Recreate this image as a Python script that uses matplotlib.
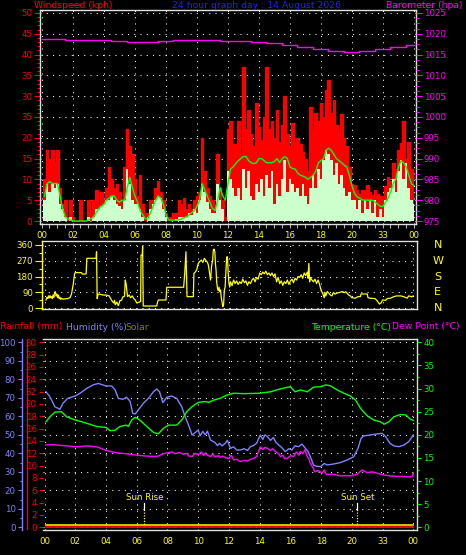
import numpy as np
import matplotlib
matplotlib.use('Agg')
import matplotlib.pyplot as plt
from matplotlib.ticker import MultipleLocator, FixedLocator, FixedFormatter
from matplotlib.lines import Line2D
import matplotlib.transforms as mtransforms

# ---------------- data ----------------
wind_t0 = 0.1          # first 10-minute slot (hours)
wind_step = 1 / 6.0
gust = [10, 17, 15, 17, 14, 17,   8, 4, 5, 1, 5, 1,   0, 0, 5, 0, 0, 5,
        2, 5, 7.5, 4, 7, 5,       8, 13, 10, 8, 9, 7,  5, 13, 22, 18, 16, 10,
        6, 11, 4, 2, 2, 5,        5, 8, 9.5, 7, 5, 2,  1, 1, 2, 2, 5, 4,
        5.5, 3, 4, 3, 5, 6,       7, 20, 12, 8, 6, 5,  4, 16, 8, 5, 1, 22,
        24, 18.5, 18.5, 24, 16, 37,   22, 26.7, 21, 18, 28.4, 22.7,
        19.5, 25, 37, 22, 24, 20,     26.7, 19, 23, 30, 21, 18,
        23.5, 19, 20, 18.5, 16.5, 15, 12, 27.5, 22, 26, 24, 28.4,
        25, 31.5, 34, 26, 29, 23,     21, 25.8, 20, 18, 13, 9,
        8.6, 7.5, 6.5, 7.5, 7, 8.6,   7, 6.2, 7.5, 6.5, 6, 5.5,
        8.5, 10.6, 9.5, 14, 12.5, 17, 18.7, 24, 15, 19, 12.5, 10.5]
speed = [5, 9, 7, 9, 8, 9,   4, 3, 1, 0, 1, 0,   0, 0, 0, 0, 0, 1,
         0, 1, 3, 3, 3.5, 4, 5, 5, 6, 5, 4, 3.5, 3, 5, 12.5, 9, 5, 4,
         4, 3, 1, 0, 1, 3,   4, 5, 6, 5.5, 3, 1,  0, 0, 0, 0.5, 1, 1,
         1, 1, 2, 1.5, 3, 2, 5, 9, 7, 4.5, 3, 2,  2, 9, 5, 3, 0, 12,
         10, 8, 6, 8, 5, 12.4,  8, 12, 6, 5, 9, 7,  10, 6, 11, 8, 12, 4,
         9, 6, 10, 14.7, 7, 10, 9, 7, 8, 6, 9, 6,  4, 8, 11, 8, 12.4, 10,
         14.7, 17, 16, 14.6, 11, 14,  9, 11, 8, 6, 7, 5,
         5, 3, 5, 2, 5, 3,  5, 2, 5, 1, 3, 1,
         5, 7, 8, 10, 7, 12,  14.7, 10, 14, 8, 5, 4]
avg = [6, 9, 9.5, 9, 9, 9,   6, 3, 1, 0.5, 0.3, 0,  0, 0, 0, 0, 0, 0.3,
       0.5, 1, 2, 3, 3.5, 4,  5, 5.5, 6, 6, 5, 4.5,  5, 5, 8, 10.5, 8, 6,
       4.5, 2.5, 1.5, 0.5, 0.5, 2,  3.5, 5, 6, 5.5, 4, 1.5,  0.3, 0.2, 0.2, 0.2, 0.3, 0.5,
       0.8, 1, 1.5, 2, 2.5, 3.5,  5, 9, 7.5, 6, 4.5, 3,  2.5, 5, 8, 6, 5, 9,
       12.5, 13, 13.8, 14.5, 15, 15.5,  15.5, 14.5, 14, 13.8, 14, 15,
       15, 14.5, 14, 14, 14, 14.3,  15, 14, 15, 15.5, 15, 13,
       12.6, 12.5, 11.5, 11, 10.8, 10.5,  10, 10.5, 11, 12, 14, 14.5,
       15, 17, 17.5, 17, 16, 15,  14.5, 14, 13.4, 13, 11, 8.5,
       6.6, 5.8, 5.5, 5.1, 5, 5,  5, 5, 4.5, 4, 3.5, 3.5,
       4.5, 5.5, 7, 9, 10, 13,  14.5, 14, 13, 11, 9, 8.5]

baro_t = [0, 1, 2, 3, 4, 5, 6, 7, 8, 9, 10, 11, 12, 13, 14, 15, 16, 17, 18, 19, 20, 21, 22, 23, 24]
baro_v = [1018.7, 1018.8, 1018.5, 1018.5, 1018.4, 1018.2, 1018.0, 1018.1, 1018.2, 1018.5,
          1018.6, 1018.4, 1018.3, 1018.2, 1018.0, 1017.7, 1017.3, 1016.8, 1016.3, 1015.8,
          1015.6, 1015.8, 1016.4, 1016.9, 1017.3]

dir_t = [0.09, 0.15, 0.2, 0.25, 0.3, 0.35, 0.4, 0.45, 0.5, 0.55, 0.6, 0.65, 0.7, 0.75, 0.8, 0.85,
         0.9, 0.95, 1.0, 1.05, 1.1, 1.2, 1.3, 1.5, 1.65, 1.75, 1.87, 1.95, 2.0, 2.4, 2.45, 2.7,
         2.75, 3.35, 3.38, 3.42, 3.48, 3.6, 3.8, 4.0, 4.2, 4.3, 4.4, 4.5, 4.55, 4.6, 4.7, 4.8,
         4.9, 5.0, 5.1, 5.2, 5.25, 5.3, 5.35, 5.4, 5.5, 5.6, 5.7, 5.8, 5.9, 6.0, 6.25, 6.28,
         6.35, 6.38, 6.42, 7.3, 7.35, 7.4, 7.9, 7.95, 9.05, 9.12, 9.2, 9.27, 9.68, 9.72, 9.8,
         9.9, 10.0, 10.1, 10.2, 10.3, 10.4, 10.5, 10.6, 10.66, 10.75, 10.8, 10.87, 10.94, 10.98,
         11.03, 11.08, 11.12, 11.16, 11.2, 11.25, 11.3, 11.35, 11.4, 11.45, 11.5, 11.6, 11.65,
         11.7, 11.75, 11.85, 11.9, 11.95, 12.0, 12.05,
         12.1, 12.2, 12.3, 12.4, 12.5, 12.6, 12.7, 12.8, 12.9, 13.0, 13.1, 13.2, 13.3, 13.4,
         13.5, 13.6, 13.7, 13.8, 13.9, 14.0, 14.1, 14.2, 14.3, 14.4, 14.5, 14.6, 14.7, 14.8,
         14.9, 15.0, 15.1, 15.2, 15.3, 15.4, 15.5, 15.6, 15.7, 15.8, 15.9, 16.0, 16.1, 16.2,
         16.3, 16.4, 16.5, 16.6, 16.7, 16.8, 16.9, 17.0, 17.1, 17.15, 17.2, 17.25, 17.3, 17.4,
         17.5, 17.6, 17.7, 17.8, 17.9, 18.0, 18.1, 18.2, 18.25, 18.3, 18.4, 18.5, 18.6, 18.7,
         18.8, 18.9, 19.0, 19.2, 19.4, 19.5, 19.6, 19.8, 19.9, 20.0, 20.2, 20.4, 20.55, 20.6,
         21.0, 21.05, 21.2, 21.5, 21.6, 21.8, 21.9, 22.0, 22.2, 22.3, 22.5, 22.7, 22.9, 23.2,
         23.4, 23.6, 23.7, 23.9, 24.0]
dir_v = [47, 62, 55, 70, 58, 72, 60, 66, 55, 75, 62, 90, 94, 70, 80, 60,
         75, 55, 62, 50, 57, 51, 53, 55, 60, 80, 140, 195, 202, 202, 194, 194,
         283, 283, 320, 55, 80, 80, 75, 75, 70, 55, 40, 30, 45, 20, 35, 15,
         43, 45, 65, 68, 160, 140, 104, 66, 75, 60, 70, 55, 47, 30, 38, 302,
         300, 350, 13, 13, 35, 47, 47, 119, 119, 198, 320, 66, 66, 198, 205,
         217, 254, 265, 273, 260, 283, 270, 260, 245, 190, 160, 240, 273, 330,
         335, 320, 250, 217, 150, 113, 100, 120, 94, 104, 60, 9, 20,
         104, 120, 290, 292, 200, 141, 120,
         150, 128, 160, 140, 155, 135, 150, 140, 165, 145, 155, 130, 150, 140,
         160, 170, 150, 175, 165, 200, 190, 205, 195, 210, 190, 200, 185, 200,
         180, 195, 150, 175, 140, 155, 130, 150, 140, 160, 135, 155, 165, 145,
         170, 160, 180, 175, 190, 170, 200, 185, 205, 170, 254, 150, 175, 160,
         150, 165, 140, 160, 135, 100, 85, 60, 90, 70, 95, 85, 75, 70,
         90, 80, 85, 90, 95, 88, 94, 75, 70, 60, 57, 66, 66, 81,
         81, 60, 57, 55, 47, 24, 30, 47, 45, 55, 57, 65, 70, 70,
         65, 57, 70, 65, 70]

hum_t = [0.09, 0.35, 0.67, 1.0, 1.2, 1.5, 2.0, 2.3, 2.74, 3.17, 3.5, 4.0, 4.37, 4.6, 4.8, 5.1,
         5.35, 5.57, 5.74, 5.9, 6.1, 6.43, 6.76, 7.09, 7.3, 7.48, 7.7, 7.96, 8.28, 8.6, 8.93,
         9.15, 9.37, 9.6, 9.8, 10.0, 10.13, 10.3, 10.46, 10.6, 10.8, 10.95, 11.1, 11.25, 11.4,
         11.55, 11.76, 11.9, 12.1, 12.3, 12.5, 12.74, 13.0, 13.2, 13.4, 13.6, 13.8, 14.04,
         14.2, 14.35, 14.5, 14.7, 14.9, 15.05, 15.24, 15.45, 15.67, 15.9, 16.1, 16.3, 16.54,
         16.75, 16.98, 17.15, 17.3, 17.5, 17.7, 17.96, 18.2, 18.4, 18.8, 19.26, 19.7, 20.13,
         20.4, 20.6, 20.78, 21.2, 21.65, 21.98, 22.2, 22.48, 22.74, 23.07, 23.4, 23.7, 24.0]
hum_v = [73.3, 70.6, 65.2, 63.8, 67, 69.7, 71, 72.4, 75.1, 77, 77.8, 76.4, 76.4, 74.2, 69.7, 69.2,
         70.3, 68, 61.6, 61.3, 63.4, 67, 69.7, 73.3, 74.8, 73.3, 67.4, 70.3, 71, 69.7, 65.2,
         59.8, 55.3, 49.9, 51.2, 52.5, 49.5, 51.8, 50.0, 52.0, 47.2, 46.5, 45.8, 44.2, 45.4,
         44.0, 45.4, 47.0, 42.7, 43.5, 41.8, 41.8, 42.5, 41.5, 43.6, 44.2, 45.4, 49.9,
         47.5, 50.0, 49, 47.0, 48.5, 46.0, 44.5, 43.0, 40.9, 42.5, 41.8, 44.0, 43.6,
         45.0, 42.7, 41.0, 38.2, 33.7, 33.0, 32.8, 34.5, 33.7, 34.2, 35, 36.4, 38.2,
         42.7, 48.1, 49.4, 49.9, 50.5, 50.8, 49, 45.4, 44, 43.6, 44.5, 46.3, 49.9]

temp_t = [0.09, 0.35, 0.67, 1.1, 1.43, 2.0, 2.74, 3.4, 4.0, 4.26, 4.6, 4.9, 5.3, 5.45, 5.67, 5.9,
          6.2, 6.65, 7.1, 7.4, 7.74, 8.07, 8.6, 8.93, 9.26, 9.6, 10.0, 10.46, 10.67, 11.0,
          11.43, 11.87, 12.3, 13.0, 14.0, 14.7, 15.1, 15.56, 16.0, 16.3, 16.65, 17.1, 17.5,
          17.96, 18.3, 18.6, 19.04, 19.48, 19.9, 20.24, 20.57, 21.0, 21.43, 21.87, 22.1, 22.4,
          22.74, 23.17, 23.5, 23.8, 24.0]
temp_v = [22.8, 23.9, 24.9, 25.0, 23.9, 23.2, 22.5, 21.8, 21.6, 20.9, 21.0, 21.8, 22.1, 21.8, 23.2,
          23.8, 23.2, 21.8, 20.5, 20.2, 21.4, 22.1, 22.1, 23.2, 25.0, 26.1, 27.0, 27.2, 27.0,
          27.5, 27.9, 28.6, 29.0, 28.9, 29.0, 29.3, 29.7, 30.1, 30.4, 29.3, 29.7, 29.3, 30.3,
          30.4, 30.8, 30.6, 29.7, 29.0, 28.4, 27.5, 25.7, 24.1, 23.2, 22.8, 22.3, 22.8, 23.9,
          24.4, 24.3, 23.4, 23.1]

dew_t = [0.09, 0.5, 1.1, 1.5, 2.0, 2.74, 3.4, 4.04, 4.7, 5.35, 6.0, 6.65, 7.3, 7.74, 7.96, 8.3,
         8.5, 8.8, 9.0, 9.26, 9.4, 9.6, 9.8, 10.0, 10.2, 10.35, 10.46, 10.6, 10.8, 10.95, 11.1,
         11.3, 11.43, 11.6, 11.8, 12.0, 12.15, 12.3, 12.5, 12.74, 13.0, 13.2, 13.4, 13.6, 13.8,
         14.04, 14.2, 14.35, 14.5, 14.7, 14.85, 15.0, 15.2, 15.35, 15.5, 15.65, 15.8, 16.0,
         16.2, 16.4, 16.55, 16.65, 16.8, 16.95, 17.1, 17.2, 17.3, 17.45, 17.6, 17.8, 18.07,
         18.2, 18.35, 18.6, 18.9, 19.26, 19.6, 19.9, 20.35, 20.67, 21.0, 21.3, 21.65, 22.1,
         22.5, 23.0, 23.4, 23.7, 23.93, 24.0]
dew_v = [17.8, 17.9, 17.7, 17.6, 17.4, 17.6, 17.4, 16.6, 16.1, 15.9, 15.6, 15.4, 15.3, 15.9, 16.1,
         16.3, 15.9, 16.2, 15.8, 16.0, 15.4, 15.3, 16.0, 15.7, 16.3, 15.5, 16.1, 15.6, 15.3,
         15.8, 15.2, 15.5, 15.1, 15.4, 15.0, 14.9, 15.6, 14.6, 14.7, 14.2, 14.5, 14.3, 14.7,
         14.9, 15.3, 17.4, 16.8, 17.3, 17.1, 16.6, 17.0, 16.4, 16.0, 15.3, 15.6, 14.8, 14.9,
         15.5, 15.3, 16.3, 15.6, 16.4, 15.9, 16.8, 15.3, 14.8, 13.8, 13.0, 12.0, 12.3, 11.7,
         12.4, 11.4, 11.5, 11.4, 11.1, 11.2, 11.1, 11.5, 12.4, 11.8, 12.0, 11.7, 11.3,
         11.1, 11.0, 11.0, 10.9, 11.0, 11.7]

rain_t = [0.1, 24.0]
rain_v = [0.0, 0.0]
solar_v = [0.0, 0.0]

sunrise = 6.49
sunset = 20.36
title = "24 hour graph day : 14 August 2026"
hour_labels = ['00', '02', '04', '06', '08', '10', '12', '14', '16', '18', '20', '33', '00']
wind_labels = ['0', '5', '10', '15', '20', '35', '30', '35', '40', '45', '50']
rain_labels = ['0', '2', '4', '6', '8', '10', '12', '14', '16', '18', '20', '32', '24', '26', '28', '30']

# ---------------- styling ----------------
W, H = 466, 555
RED = '#ff0000'; YEL = '#ffff00'; MAG = '#ff00ff'; GRN = '#00ff00'
BLU = '#8080ff'; LGR = '#ccffcc'; WHT = '#e0e0e0'; OLV = '#808000'; TBL = '#2020ff'
FS = 6.2
TFS = 6.7
GRID = dict(color='white', linestyle=(0, (1, 5)), linewidth=0.75)

fig = plt.figure(figsize=(W / 100, H / 100), dpi=100, facecolor='black')


def box(l, t, r, b):
    return [l / W, 1 - b / H, (r - l) / W, (b - t) / H]


hour_ticks = list(range(0, 25, 2))

# ---------------- top panel: wind ----------------
ax1 = fig.add_axes(box(40, 10, 416, 224), facecolor='black')
ax1.set_xlim(-0.11, 24.15)
ax1.set_ylim(-0.72, 50.72)
ax1.set_axisbelow(True)
wt = wind_t0 + wind_step * np.arange(len(gust))
te = np.append(wt, 24.0)
g = np.append(gust, gust[-1])
s = np.append(speed, speed[-1])
ax1.fill_between(te, g, step='post', color=RED, lw=0, zorder=2)
ax1.step(te, g, where='post', color=RED, lw=0.9, zorder=2)
ax1.fill_between(te, s, step='post', color=LGR, lw=0, zorder=3)
ax1.plot(wt + wind_step / 2, avg, color=GRN, lw=1.0, zorder=4)
ax1.xaxis.set_major_locator(FixedLocator(hour_ticks))
ax1.xaxis.set_major_formatter(FixedFormatter(hour_labels))
ax1.xaxis.set_minor_locator(MultipleLocator(0.5))
ax1.yaxis.set_major_locator(FixedLocator([0, 5, 10, 15, 20, 25, 30, 35, 40, 45, 50]))
ax1.yaxis.set_major_formatter(FixedFormatter(wind_labels))
ax1.yaxis.set_minor_locator(MultipleLocator(1))
ax1.grid(True, which='major', **GRID)
ax1.tick_params(axis='x', which='both', colors='#b0b0b0', labelcolor=YEL, labelsize=FS,
                length=3, width=0.8, pad=2)
ax1.tick_params(axis='y', which='major', colors=RED, labelcolor=RED, labelsize=FS,
                length=4, width=0.8, pad=1.5)
ax1.tick_params(axis='y', which='minor', colors=RED, length=2, width=0.8)
for sp in ax1.spines.values():
    sp.set_color(WHT)
    sp.set_linewidth(1.0)

ax1b = ax1.twinx()
ax1b.set_ylim(975 - 0.72, 1025.72)
ax1b.plot(baro_t, baro_v, color=MAG, lw=1.0, drawstyle='steps-mid', zorder=5)
ax1b.yaxis.set_major_locator(MultipleLocator(5))
ax1b.yaxis.set_minor_locator(MultipleLocator(1.25))
ax1b.tick_params(axis='y', which='major', colors=MAG, labelcolor=MAG, labelsize=FS,
                 length=4, width=0.8, pad=1.5)
ax1b.tick_params(axis='y', which='minor', colors=MAG, length=2, width=0.8)
for sp in ax1b.spines.values():
    sp.set_visible(False)

fig.text(34 / W, 1 - 6 / H, 'Windspeed (kph)', color=RED, fontsize=TFS, va='center', ha='left')
fig.text(257 / W, 1 - 6 / H, title, color=TBL, fontsize=TFS, va='center', ha='center')
fig.text(463 / W, 1 - 6 / H, 'Barometer (hpa)', color=MAG, fontsize=TFS, va='center', ha='right')

# ---------------- middle panel: direction ----------------
ax2 = fig.add_axes(box(42, 241, 417, 309), facecolor='black')
ax2.set_xlim(-0.17, 24.24)
ax2.set_ylim(-4, 381)
ax2.set_axisbelow(True)
ax2.plot(dir_t, dir_v, color=YEL, lw=0.9, zorder=3)
ax2.xaxis.set_major_locator(MultipleLocator(2))
ax2.yaxis.set_major_locator(FixedLocator([0, 90, 180, 270, 360]))
ax2.yaxis.set_minor_locator(MultipleLocator(45))
ax2.grid(True, which='major', **GRID)
ax2.tick_params(axis='x', length=0, labelbottom=False)
ax2.tick_params(axis='y', which='major', colors=YEL, labelcolor=YEL, labelsize=FS,
                length=5, width=0.8, pad=1.5)
ax2.tick_params(axis='y', which='minor', colors=YEL, length=2.5, width=0.8)
for k, sp in ax2.spines.items():
    sp.set_color(WHT)
    sp.set_linewidth(1.0)
ax2.spines['left'].set_color(YEL)
for lab, val in zip(['N', 'W', 'S', 'E', 'N'], [360, 270, 180, 90, 0]):
    ax2.text(1.055, val, lab, color=YEL, fontsize=8, ha='center', va='center',
             transform=mtransforms.blended_transform_factory(ax2.transAxes, ax2.transData))

# ---------------- bottom panel ----------------
ax3 = fig.add_axes(box(43, 339, 417, 530), facecolor='black')
ax3.set_xlim(-0.1, 24.24)
ax3.set_ylim(-1.46, 101.8)
ax3.set_axisbelow(True)
ax3.plot(hum_t, hum_v, color=BLU, lw=1.0, zorder=3)
ax3.xaxis.set_major_locator(FixedLocator(hour_ticks))
ax3.xaxis.set_major_formatter(FixedFormatter(hour_labels))
ax3.yaxis.set_major_locator(MultipleLocator(10))
ax3.yaxis.set_minor_locator(MultipleLocator(5))
ax3.grid(True, which='major', **GRID)
ax3.tick_params(axis='x', length=0, labelcolor=YEL, labelsize=FS, pad=5)
ax3.tick_params(axis='y', which='major', colors=BLU, labelcolor=BLU, labelsize=FS,
                length=3, width=0.8, pad=1.5)
ax3.tick_params(axis='y', which='minor', colors=BLU, length=1.5, width=0.8)
for sp in ax3.spines.values():
    sp.set_color(WHT)
    sp.set_linewidth(1.0)
ax3.spines['left'].set_position(('outward', 21 * 0.72))
ax3.spines['left'].set_color(BLU)

# sun rise / sun set markers (humidity scale)
for tt, lab in [(sunrise, 'Sun Rise'), (sunset, 'Sun Set')]:
    ax3.plot([tt, tt], [9.4, 13.1], color='white', lw=0.9, zorder=4)
    ax3.plot([tt, tt], [0, 9.4], color=YEL, lw=0.9, linestyle=(0, (1, 1.2)), zorder=4)
    ax3.text(tt, 16.0, lab, color=YEL, fontsize=FS, ha='center', va='center', zorder=4)

# rainfall axis
ax3r = ax3.twinx()
ax3r.set_ylim(-0.44, 30.54)
ax3r.yaxis.tick_left()
ax3r.yaxis.set_major_locator(FixedLocator(list(range(0, 31, 2))))
ax3r.yaxis.set_major_formatter(FixedFormatter(rain_labels))
ax3r.tick_params(axis='y', which='major', colors=RED, labelcolor=RED, labelsize=FS,
                 length=3, width=0.8, pad=1.5)
for k, sp in ax3r.spines.items():
    sp.set_visible(False)
ax3r.plot(rain_t, rain_v, color=RED, lw=1.3, zorder=3)
off = mtransforms.offset_copy(ax3r.transData, fig=fig, x=0, y=2.5, units='dots')
ax3r.plot(rain_t, solar_v, color=YEL, lw=1.1, zorder=5, transform=off)

# temperature axis
ax3t = ax3.twinx()
ax3t.set_ylim(-0.58, 40.72)
ax3t.plot(temp_t, temp_v, color=GRN, lw=1.0, zorder=3)
ax3t.plot(dew_t, dew_v, color=MAG, lw=1.0, zorder=3)
ax3t.yaxis.set_major_locator(MultipleLocator(5))
ax3t.yaxis.set_minor_locator(MultipleLocator(2.5))
ax3t.tick_params(axis='y', which='major', colors=GRN, labelcolor=GRN, labelsize=FS,
                 length=3, width=0.8, pad=1.5)
ax3t.tick_params(axis='y', which='minor', colors=GRN, length=1.5, width=0.8)
for k, sp in ax3t.spines.items():
    sp.set_visible(False)

fig.add_artist(Line2D([26.5 / W, 26.5 / W], [1 - 340 / H, 1 - 529 / H], color=RED, lw=1.0))

fig.text(0 / W, 1 - 327 / H, 'Rainfall (mm)', color=RED, fontsize=TFS, va='center', ha='left')
fig.text(66 / W, 1 - 327 / H, 'Humidity (%)', color=BLU, fontsize=TFS, va='center', ha='left')
fig.text(125 / W, 1 - 327 / H, 'Solar', color=OLV, fontsize=TFS, va='center', ha='left')
fig.text(391 / W, 1 - 327 / H, 'Temperature (\u00b0C)', color=GRN, fontsize=TFS, va='center', ha='right')
fig.text(392 / W, 1 - 327 / H, 'Dew Point (\u00b0C)', color=MAG, fontsize=TFS, va='center', ha='left')

fig.savefig('out.png', dpi=100, facecolor='black')
